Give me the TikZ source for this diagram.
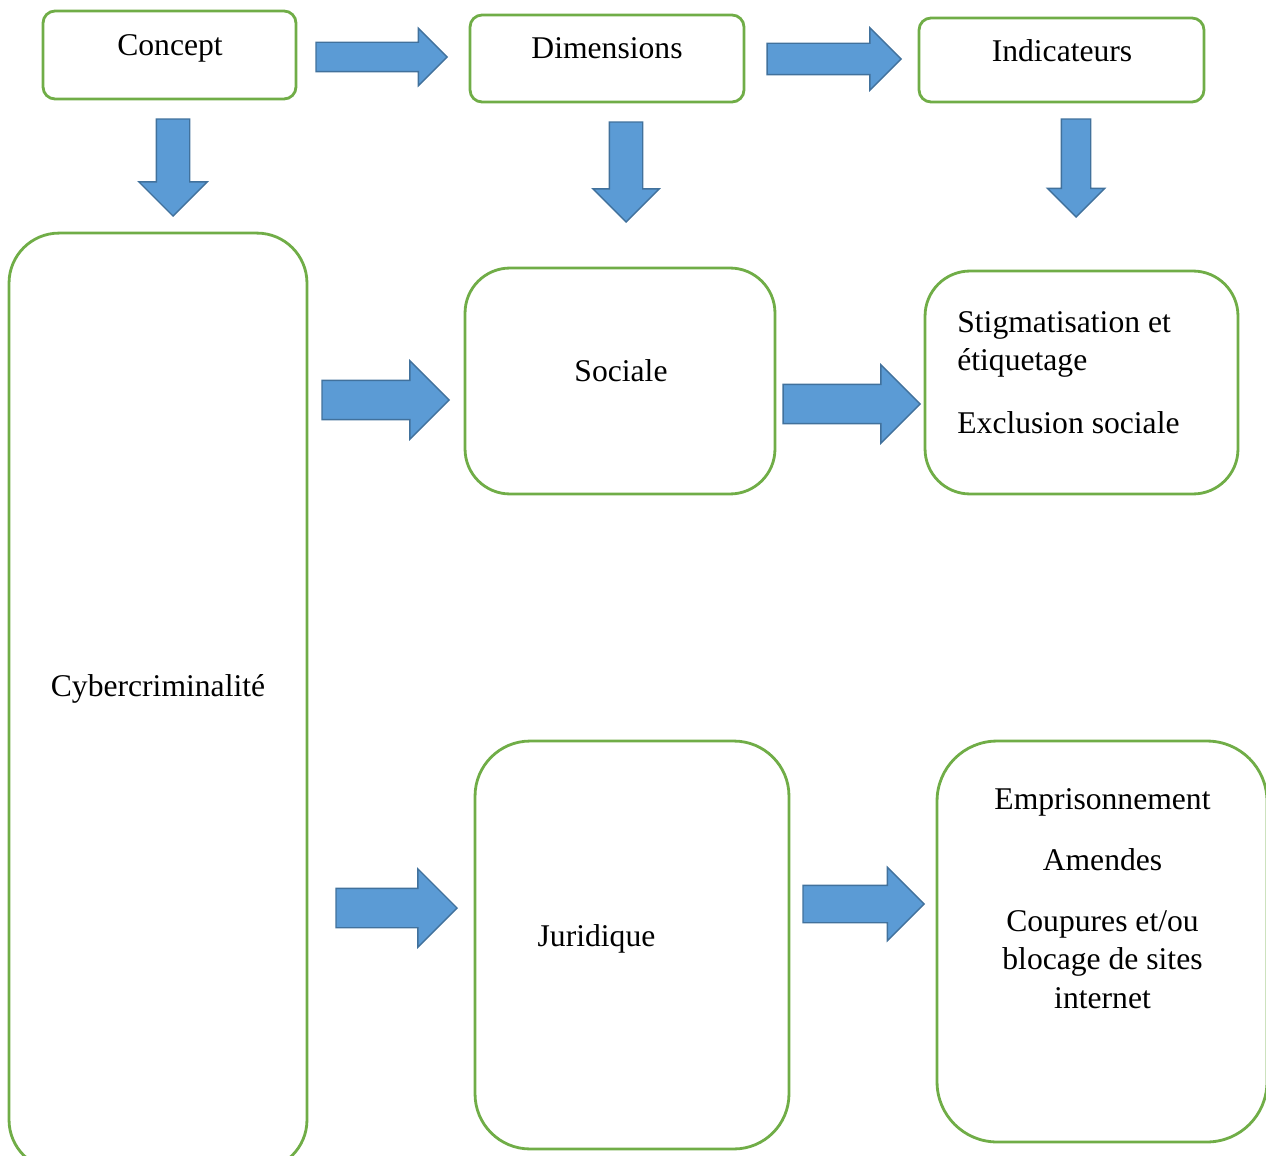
\documentclass[tikz,border=0pt]{standalone}
\usepackage{fontspec}
\setmainfont{Liberation Serif}
\usetikzlibrary{shapes.arrows}

\definecolor{boxgreen}{HTML}{70AD47}
\definecolor{arrfill}{HTML}{5B9BD5}
\definecolor{arrdraw}{HTML}{41719C}

\begin{document}
\begin{tikzpicture}[
    x=0.02cm, y=-0.02cm,
    box/.style={draw=boxgreen, line width=1.6pt, inner sep=0pt},
    smallbox/.style={box, rounded corners=0.24cm},
    lbl/.style={font=\fontsize{18}{21.7}\selectfont, inner sep=0pt},
    fat/.style={single arrow, draw=arrdraw, fill=arrfill, line width=0.8pt,
                inner xsep=0pt, single arrow tip angle=90, anchor=tip},
  ]
  \useasboundingbox (0,0) rectangle (1266,1155);
  \clip (0,0) rectangle (1266,1155);

  % top row
  \node[smallbox, minimum width=5.06cm, minimum height=1.76cm] (concept) at (169.5,55) {};
  \node[smallbox, minimum width=5.48cm, minimum height=1.74cm] (dims) at (607,58.5) {};
  \node[smallbox, minimum width=5.70cm, minimum height=1.68cm] (indic) at (1061.5,60) {};
  \node[lbl, anchor=base] (conceptlbl) at (170,56) {Concept};
  \node[lbl, anchor=base] (dimslbl) at (607,59) {Dimensions};
  \node[lbl, anchor=base] (indiclbl) at (1062,62) {Indicateurs};

  % big boxes
  \node[box, rounded corners=1cm, minimum width=5.96cm, minimum height=18.74cm] (cyber) at (158,701.5) {};
  \node[box, rounded corners=0.9cm, minimum width=6.2cm, minimum height=4.52cm] (soc) at (620,381) {};
  \node[box, rounded corners=0.9cm, minimum width=6.26cm, minimum height=4.46cm] (stig) at (1081.5,382.5) {};
  \node[box, rounded corners=1.1cm, minimum width=6.28cm, minimum height=8.16cm] (jur) at (632,945) {};
  \node[box, rounded corners=1.2cm, minimum width=6.6cm, minimum height=8.02cm] (sanc) at (1102,941.5) {};

  \node[lbl, anchor=base] (cyberlbl) at (158,696) {Cybercriminalité};
  \node[lbl, anchor=base] (soclbl) at (621,381) {Sociale};
  \node[lbl, anchor=base] (jurlbl) at (596.5,946) {Juridique};
  % base of a multi-line node is its last line
  \node[lbl, anchor=base west, align=left] (stiglbl) at (957,433)
       {Stigmatisation et\\étiquetage\\[14pt]Exclusion sociale};
  \node[lbl, anchor=base, align=center] (sanclbl) at (1102.5,1008)
       {Emprisonnement\\[13pt]Amendes\\[13pt]Coupures et/ou\\blocage de sites\\internet};

  % block arrows, placed by their tips
  \node[fat, inner ysep=0.28cm, minimum height=2.62cm, minimum width=1.12cm, single arrow head extend=0.28cm] (cd) at (448,57) {};
  \node[fat, inner ysep=0.30cm, minimum height=2.68cm, minimum width=1.22cm, single arrow head extend=0.31cm] (di) at (902,59) {};
  \node[fat, rotate=-90, inner ysep=0.32cm, minimum height=1.94cm, minimum width=1.34cm, single arrow head extend=0.35cm] (cdown) at (173,217) {};
  \node[fat, rotate=-90, inner ysep=0.32cm, minimum height=2.0cm, minimum width=1.3cm, single arrow head extend=0.33cm] (ddown) at (626,223) {};
  \node[fat, rotate=-90, inner ysep=0.28cm, minimum height=1.96cm, minimum width=1.12cm, single arrow head extend=0.28cm] (idown) at (1076,218) {};
  \node[fat, inner ysep=0.38cm, minimum height=2.54cm, minimum width=1.54cm, single arrow head extend=0.39cm] (cs) at (450,400) {};
  \node[fat, inner ysep=0.38cm, minimum height=2.74cm, minimum width=1.54cm, single arrow head extend=0.39cm] (ss) at (921,404) {};
  \node[fat, inner ysep=0.38cm, minimum height=2.42cm, minimum width=1.54cm, single arrow head extend=0.39cm] (cj) at (458,908) {};
  \node[fat, inner ysep=0.36cm, minimum height=2.42cm, minimum width=1.44cm, single arrow head extend=0.36cm] (js) at (925,904) {};

\end{tikzpicture}
\end{document}
